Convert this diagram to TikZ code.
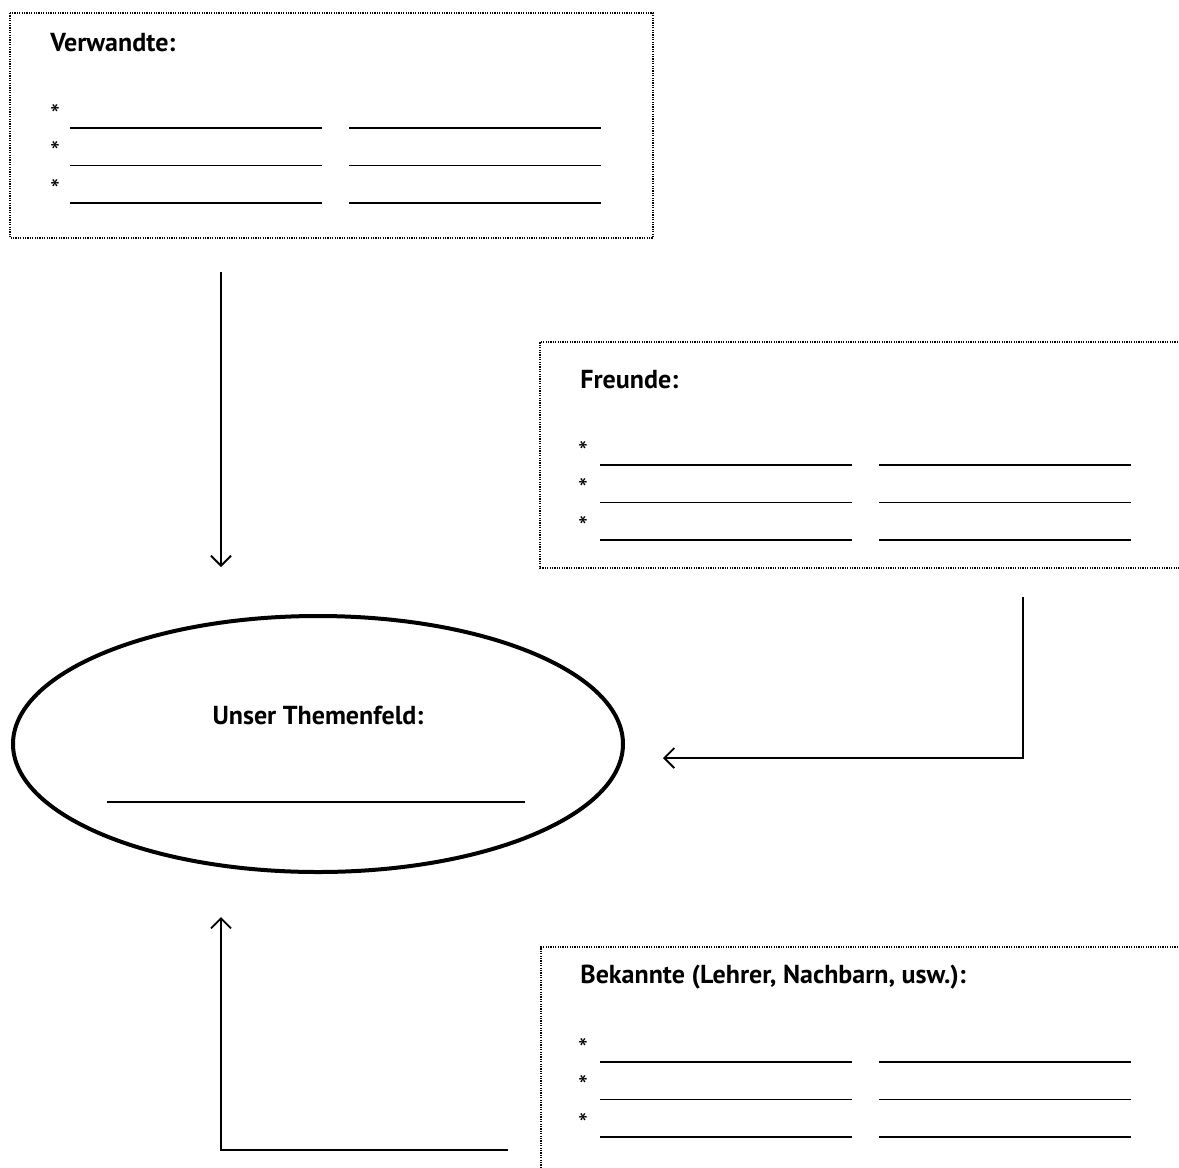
\documentclass[tikz,border=0pt]{standalone}
\usepackage{fontspec}
\setmainfont{PT Sans}
\usetikzlibrary{arrows.meta,shapes.geometric}
\begin{document}
\begin{tikzpicture}[x=0.5pt,y=-0.5pt,
  dotbox/.style={draw, line width=0.6pt, dash pattern=on 0.6pt off 0.6pt},
  title/.style={anchor=base west, inner sep=0pt, font=\fontsize{13}{15}\selectfont\bfseries},
  star/.style={anchor=base, inner sep=0pt, font=\fontsize{14}{15}\selectfont},
  blank/.style={line width=0.75pt},
  link/.style={line width=0.9pt, -{Straight Barb[length=5pt,width=10pt,line width=0.9pt]}},
  topic/.style={draw, ellipse, line width=2pt, inner sep=0pt}
]
\useasboundingbox (0,0) rectangle (1179,1168);
\clip (0,0) rectangle (1179,1168);

% three answer panels, each with a heading and three rows of two blanks
\newcommand{\answerrows}[4]{% #1 star x, #2 first row y, #3 left blank x, #4 right blank x
  \foreach \r in {0,1,2}{
    \node[star] at (#1,{#2+15+37.5*\r}) {*};
    \draw[blank] (#3,{#2+19+37.5*\r}) -- ++(252,0);
    \draw[blank] (#4,{#2+19+37.5*\r}) -- ++(252,0);
  }}

% relatives
\draw[dotbox] (10,13) rectangle (653,238);
\node[title] (verw) at (50,51) {Verwandte:};
\answerrows{55}{109}{70}{349}

% friends (open towards the right edge)
\draw[dotbox] (1190,342) -- (540,342) -- (540,568) -- (1190,568);
\node[title] (freu) at (580,388) {Freunde:};
\answerrows{583}{446}{600}{879}

% acquaintances (open to the right and below)
\draw[dotbox] (1190,947) -- (541,947) -- (541,1180);
\node[title] (bek) at (580,983) {Bekannte (Lehrer, Nachbarn, usw.):};
\answerrows{583}{1043}{600}{879}

% central topic
\node[topic, minimum width=305pt, minimum height=128pt] (topic) at (318,744) {};
\node[title, anchor=base] (topictitle) at (318,724) {Unser Themenfeld:};
\draw[blank] (107,802) -- (525,802);

% connectors towards the topic
\coordinate (a1s) at (221,272);
\coordinate (a1e) at (221,567);
\draw[link] (a1s) -- (a1e);

\coordinate (a2s) at (1023,597);
\coordinate (a2e) at (663,758);
\draw[link] (a2s) |- (a2e);

\coordinate (a3s) at (508,1150);
\coordinate (a3e) at (221,917);
\draw[link] (a3s) -| (a3e);
\end{tikzpicture}
\end{document}
